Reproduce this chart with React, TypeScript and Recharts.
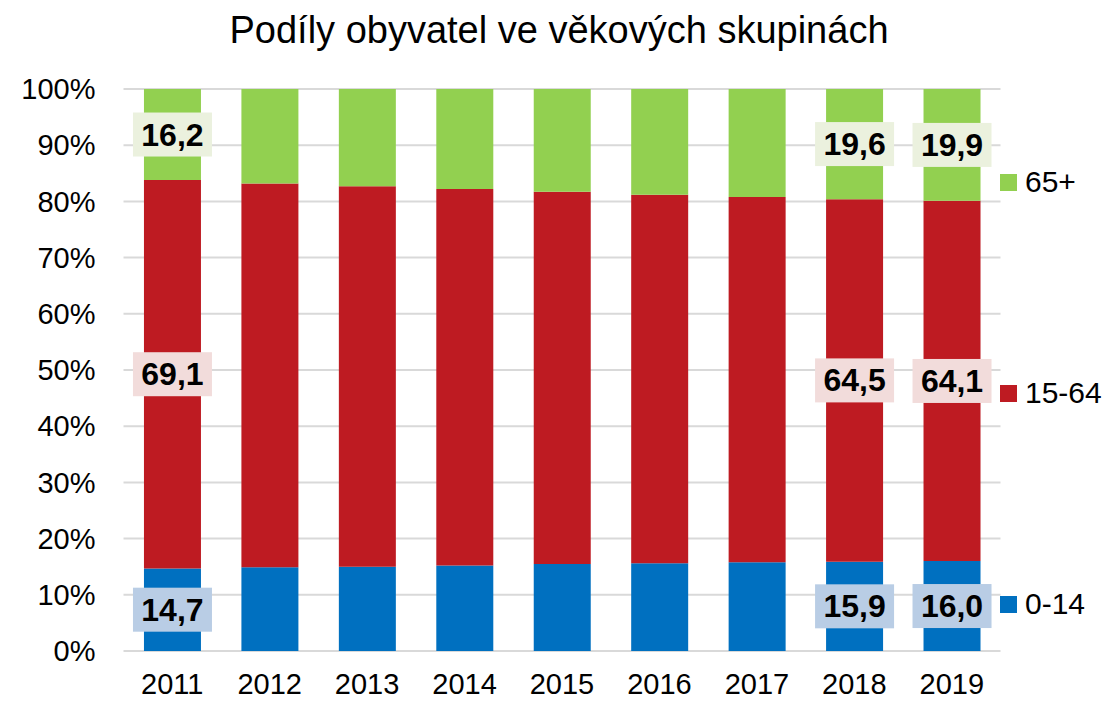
import { Bar, BarChart, CartesianGrid, LabelList, XAxis, YAxis } from 'recharts';

const years = ['2011', '2012', '2013', '2014', '2015', '2016', '2017', '2018', '2019'];
const kids = [14.7, 14.9, 15.0, 15.2, 15.5, 15.6, 15.8, 15.9, 16.0];
const adults = [69.1, 68.3, 67.7, 67.0, 66.2, 65.6, 65.0, 64.5, 64.1];
const seniors = [16.2, 16.8, 17.3, 17.8, 18.3, 18.8, 19.2, 19.6, 19.9];
const yTicks = [0, 10, 20, 30, 40, 50, 60, 70, 80, 90, 100];
// only these years carry data labels in the original
const labeledYears = ['2011', '2018', '2019'];

const series = [
  { key: 'kids', name: '0-14', color: '#0070C0', labelBg: '#B9CDE5' },
  { key: 'adults', name: '15-64', color: '#BE1B22', labelBg: '#F2DCDB' },
  { key: 'seniors', name: '65+', color: '#92D050', labelBg: '#EBF1DE' },
];

const data = years.map((year, i) => ({
  year,
  kids: kids[i],
  adults: adults[i],
  seniors: seniors[i],
}));

const FONT = '"Liberation Sans", Arial, sans-serif';

function makeLabel(bg: string) {
  return function SegmentLabel(props: any) {
    const { x, y, width, height, value, index } = props;
    if (!labeledYears.includes(years[index])) return null;
    const cx = Number(x) + Number(width) / 2;
    const cy = Number(y) + Number(height) / 2;
    const boxW = 79;
    const boxH = 44;
    return (
      <g>
        <rect x={cx - boxW / 2} y={cy - boxH / 2} width={boxW} height={boxH} fill={bg} />
        <text
          x={cx}
          y={cy}
          textAnchor="middle"
          dominantBaseline="central"
          fontFamily={FONT}
          fontWeight="bold"
          fontSize={32}
          fill="#000"
        >
          {Number(value).toFixed(1).replace('.', ',')}
        </text>
      </g>
    );
  };
}

const legendItems = [
  { name: '65+', color: '#92D050', top: 182 },
  { name: '15-64', color: '#BE1B22', top: 393 },
  { name: '0-14', color: '#0070C0', top: 604 },
];

export default function App() {
  return (
    <div style={{ position: 'absolute', left: 0, top: 0, width: 1110, height: 701, background: '#fff' }}>
      <div
        style={{
          position: 'absolute',
          top: 9,
          left: 0,
          width: 1118,
          textAlign: 'center',
          fontFamily: FONT,
          fontSize: 38,
          color: '#000',
        }}
      >
        Podíly obyvatel ve věkových skupinách
      </div>
      <BarChart
        width={1110}
        height={701}
        data={data}
        margin={{ top: 89, right: 109.5, bottom: 0, left: 0 }}
        barCategoryGap="21%"
      >
        <CartesianGrid vertical={false} stroke="#D9D9D9" strokeWidth={2} />
        <XAxis
          dataKey="year"
          height={50}
          axisLine={false}
          tickLine={false}
          tickSize={0}
          tickMargin={22}
          tick={{ fill: '#000', fontSize: 29, fontFamily: FONT }}
        />
        <YAxis
          width={123.5}
          domain={[0, 100]}
          ticks={yTicks}
          interval={0}
          axisLine={false}
          tickLine={false}
          tickSize={0}
          tickMargin={28}
          tickFormatter={(v) => `${v}%`}
          tick={{ fill: '#000', fontSize: 29, fontFamily: FONT }}
        />
        {series.map((s) => (
          <Bar key={s.key} dataKey={s.key} name={s.name} stackId="a" fill={s.color} isAnimationActive={false}>
            <LabelList dataKey={s.key} content={makeLabel(s.labelBg)} />
          </Bar>
        ))}
      </BarChart>
      {legendItems.map((item) => (
        <div
          key={item.name}
          style={{
            position: 'absolute',
            left: 1000,
            top: item.top - 17,
            height: 34,
            display: 'flex',
            alignItems: 'center',
            fontFamily: FONT,
            fontSize: 30,
            color: '#000',
          }}
        >
          <span style={{ width: 17, height: 17, background: item.color, marginRight: 8 }} />
          <span>{item.name}</span>
        </div>
      ))}
    </div>
  );
}
